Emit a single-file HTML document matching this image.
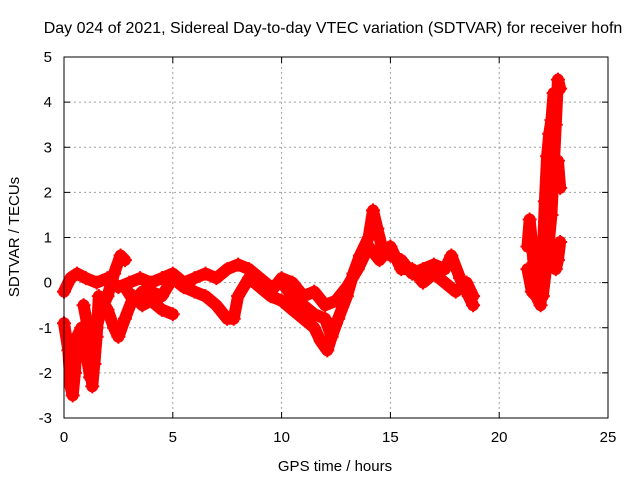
<!DOCTYPE html>
<html><head><meta charset="utf-8"><style>
body{margin:0;background:#fff;}
svg{display:block;font-family:"Liberation Sans",sans-serif;}
</style></head><body>
<svg id="chart" width="640" height="480">
<text x="333" y="33" font-size="16" text-anchor="middle">Day 024 of 2021, Sidereal Day-to-day VTEC variation (SDTVAR) for receiver hofn</text>
<text x="335" y="471" font-size="15" text-anchor="middle">GPS time / hours</text>
<text transform="translate(19,237) rotate(-90)" font-size="15" text-anchor="middle">SDTVAR / TECUs</text>
<g id="grid"></g><g id="ticks"></g><g id="data"></g>
<rect x="64" y="57" width="544" height="361" fill="none" stroke="#000" stroke-width="1"/>
</svg>
<script>
const xTicks=[0,5,10,15,20,25];
const yTicks=[-3,-2,-1,0,1,2,3,4,5];
const trackA_t=[0,0.3,0.6,1,1.5,2,2.5,3,3.5,4,4.5,5,5.5,6,6.5,7,7.5,8,8.5,9,9.5,10,10.5,11,11.5,12,12.3,12.6,13,13.3,13.6,14,14.2,14.4,14.6,15,15.5,16,16.5,17,17.5,17.8,18.2,18.6,18.8];
const trackA_v=[-0.2,0.1,0.2,0.1,0,0.1,-0.1,0,0.1,0,0.1,0.2,0,0.1,0.2,0.1,0.3,0.4,0.3,0.1,-0.1,0,-0.3,-0.5,-0.7,-0.8,-1.2,-0.8,-0.3,0.2,0.6,1.0,1.6,1.2,0.8,0.6,0.5,0.2,0.3,0.4,0.3,0.6,0.1,-0.3,-0.5];
const trackB_t=[0,0.2,0.3,0.4,0.5,0.6,0.8,1,1.2,1.4,1.5,1.7,2,2.3,2.6,2.8];
const trackB_v=[-0.9,-1.5,-2.3,-2.5,-2,-1.2,-1,-1.5,-2.1,-1.8,-1,-0.6,-0.3,0.2,0.6,0.5];
const trackC_t=[0.9,1.1,1.3,1.5,1.6,2,2.3,2.5,2.8,3.2,3.6,4,4.5,5];
const trackC_v=[-0.5,-1.0,-2.3,-1.2,-0.3,-0.6,-1.0,-1.2,-0.8,-0.3,-0.5,-0.4,-0.6,-0.7];
const trackD_t=[2.8,3.2,3.6,4,4.5,5,5.5,6,6.5,7,7.5,7.8,8,8.5,9,9.5,10,10.5,11,11.5,11.8,12.1,12.5];
const trackD_v=[-0.1,-0.4,-0.2,-0.2,-0.3,0.1,-0.1,-0.2,-0.3,-0.5,-0.8,-0.8,-0.3,0.1,-0.1,-0.3,-0.4,-0.6,-0.8,-1.0,-1.3,-1.5,-0.9];
const trackE_t=[9.5,10,10.5,11,11.5,12,12.5,13,13.5,14,14.5,15,15.5,16,16.5,17,17.5,18,18.5,18.8];
const trackE_v=[-0.2,0.1,0,-0.3,-0.2,-0.5,-0.4,-0.1,0.3,0.8,0.5,0.8,0.3,0.3,0,0.2,0,-0.2,0,-0.3];
const trackF_t=[21.3,21.4,21.5,21.6,21.8,22];
const trackF_v=[0.8,1.4,0.9,0.3,-0.2,-0.3];
const trackG_t=[21.3,21.5,21.7,21.9,21.95,22,22.1,22.2,22.3,22.4,22.5];
const trackG_v=[0.3,-0.2,-0.3,-0.5,0,0.6,1.8,2.8,3.3,3.6,4.2];
const trackH_t=[22.0,22.2,22.4,22.5,22.6,22.7,22.8];
const trackH_v=[-0.3,0.5,1.5,2.5,3.5,4.5,4.3];
const trackI_t=[22.6,22.7,22.8];
const trackI_v=[0.3,0.5,0.9];
const trackJ_t=[22.7,22.8];
const trackJ_v=[2.7,2.1];
const tracks=[[trackA_t,trackA_v],[trackB_t,trackB_v],[trackC_t,trackC_v],[trackD_t,trackD_v],[trackE_t,trackE_v],[trackF_t,trackF_v],[trackG_t,trackG_v],[trackH_t,trackH_v],[trackI_t,trackI_v],[trackJ_t,trackJ_v]];
const NS="http://www.w3.org/2000/svg";
const X=t=>64+t*544/25;
const Y=v=>418-(v+3)*361/8;
const grid=document.getElementById('grid'),ticks=document.getElementById('ticks'),data=document.getElementById('data');
function mk(tag,attrs,parent){const e=document.createElementNS(NS,tag);for(const k in attrs)e.setAttribute(k,attrs[k]);parent.appendChild(e);return e;}
xTicks.forEach(t=>{
  const x=X(t);
  if(t>0&&t<25){const g=mk('line',{x1:x,x2:x,y1:57,y2:418,stroke:'#a0a0a0','stroke-dasharray':'2,3'},grid);
  
  }
  mk('line',{x1:x,x2:x,y1:418,y2:412,stroke:'#000'},ticks);mk('line',{x1:x,x2:x,y1:57,y2:63,stroke:'#000'},ticks);
  const l=mk('text',{x:x,y:442,'font-size':15,'text-anchor':'middle'},ticks);l.textContent=t;
  
  
});
yTicks.forEach(v=>{
  const y=Y(v);
  if(v>-3&&v<5){const g=mk('line',{x1:64,x2:608,y1:y,y2:y,stroke:'#a0a0a0','stroke-dasharray':'2,3'},grid);
  
  }
  mk('line',{x1:64,x2:70,y1:y,y2:y,stroke:'#000'},ticks);mk('line',{x1:608,x2:602,y1:y,y2:y,stroke:'#000'},ticks);
  const l=mk('text',{x:52,y:y+5,'font-size':15,'text-anchor':'end'},ticks);l.textContent=v;
  
  
});
tracks.forEach(([ts,vs])=>{
  const pts=ts.map((t,i)=>X(t)+','+Y(vs[i])).join(' ');
  const pl=mk('polyline',{points:pts,fill:'none',stroke:'#ff0000','stroke-width':12,'stroke-linejoin':'round','stroke-linecap':'round'},data);
  
  
  ts.forEach((t,i)=>{
    const x=X(t),y=Y(vs[i]);
    const p=mk('path',{d:`M${x-7},${y}H${x+7}M${x},${y-7}V${y+7}`,stroke:'#ff0000','stroke-width':2},data);
    
    
  });
});
</script>
</body></html>
